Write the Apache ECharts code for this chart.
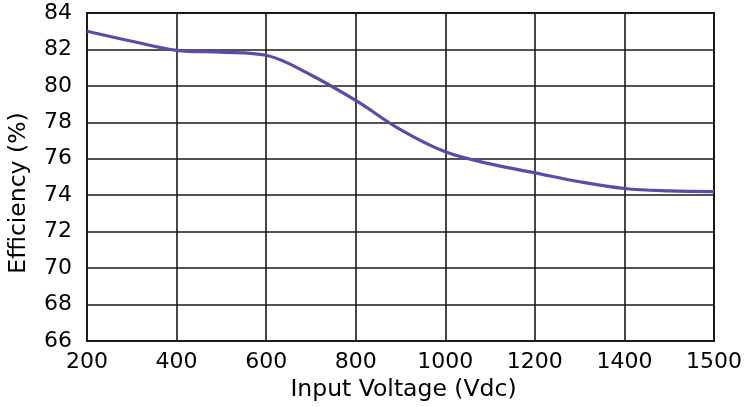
<!DOCTYPE html>
<html>
<head>
<meta charset="utf-8">
<script src="https://cdn.jsdelivr.net/npm/echarts@6/dist/echarts.min.js"></script>
<style>html,body{margin:0;padding:0;background:#fff;}#c{width:748px;height:407px;}</style>
</head>
<body>
<div id="c"></div>
<script>
// Tick labels of the x axis (equally spaced on the chart)
const xTicks = [200, 400, 600, 800, 1000, 1200, 1400, 1500];
// Curve samples: input voltage (Vdc) and efficiency (%)
const voltage = [200, 300, 400, 500, 600, 700, 800, 900, 1000, 1100, 1200, 1300, 1400, 1450, 1500];
const efficiency = [83.0, 82.45, 81.95, 81.85, 81.68, 80.6, 79.2, 77.6, 76.38, 75.72, 75.23, 74.74, 74.37, 74.24, 74.2];

// The x axis places its ticks evenly: map a voltage to its tick-index position
function axisPos(v) {
  for (let i = 0; i < xTicks.length - 1; i++) {
    if (v <= xTicks[i + 1]) return i + (v - xTicks[i]) / (xTicks[i + 1] - xTicks[i]);
  }
  return xTicks.length - 1;
}
const seriesData = voltage.map((v, i) => [axisPos(v), efficiency[i]]);

const font = 'DejaVu Sans';
const chart = echarts.init(document.getElementById('c'));
chart.setOption({
  animation: false,
  backgroundColor: '#fff',
  grid: { left: 87, right: 34, top: 13, bottom: 66, containLabel: false, outerBoundsMode: 'none',
    show: true, borderColor: '#1a1a1a', borderWidth: 2, backgroundColor: 'transparent' },
  xAxis: {
    type: 'value', min: 0, max: xTicks.length - 1, interval: 1,
    name: 'Input Voltage (Vdc)', nameLocation: 'middle', nameGap: 37,
    nameTextStyle: { fontFamily: font, fontSize: 23.5, color: '#000', padding: [0, 0, 0, 6] },
    axisLine: { show: true, lineStyle: { color: '#1a1a1a', width: 2 } },
    axisTick: { show: false },
    axisLabel: { fontFamily: font, fontSize: 22, color: '#000', margin: 10,
      formatter: v => xTicks[Math.round(v)] },
    splitLine: { show: true, lineStyle: { color: '#1a1a1a', width: 1.6 } }
  },
  yAxis: {
    type: 'value', min: 66, max: 84, interval: 2,
    name: 'Efficiency (%)', nameLocation: 'middle', nameGap: 56,
    nameTextStyle: { fontFamily: font, fontSize: 23.5, color: '#000', padding: [0, 32, 0, 0] },
    axisLine: { show: true, lineStyle: { color: '#1a1a1a', width: 2 } },
    axisTick: { show: false },
    axisLabel: { fontFamily: font, fontSize: 22, color: '#000', margin: 15 },
    splitLine: { show: true, lineStyle: { color: '#1a1a1a', width: 1.6 } }
  },
  series: [{
    type: 'line', data: seriesData, smooth: 0.35, showSymbol: false,
    lineStyle: { color: '#5a4ca8', width: 3.2 }
  }]
});
</script>
</body>
</html>
